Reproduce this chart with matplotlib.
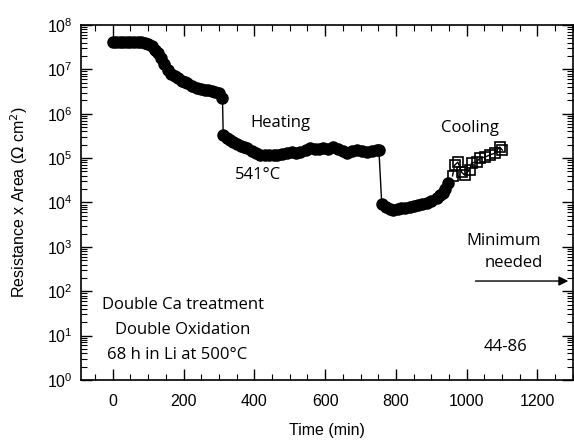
import matplotlib
matplotlib.use("Agg")
import matplotlib.pyplot as plt
from matplotlib.ticker import LogLocator, MultipleLocator, NullFormatter

plt.rcParams['font.family'] = ['Liberation Sans', 'DejaVu Sans']

# Heating run (filled circles): time (min), log10(R x A)
heat_t = [0, 10, 20, 30, 40, 50, 60, 70, 80, 90, 100, 110, 120, 127, 135, 145, 155,
          165, 175, 183, 195, 205, 211, 225, 239, 250, 260, 268, 280, 290, 300, 310,
          312, 322, 332, 341, 352, 362, 372, 380, 392, 405, 417, 430, 442, 455, 465,
          478, 493, 505, 518, 530, 545, 558, 570, 582, 594, 608, 623, 636, 650, 662,
          676, 690, 704, 718, 732, 746, 752,
          760, 772, 783, 792, 805, 815, 827, 839, 850, 862, 874, 887, 900, 915, 925,
          932, 940, 946]
heat_log = [7.61, 7.61, 7.61, 7.61, 7.61, 7.61, 7.61, 7.61, 7.61, 7.60, 7.58, 7.52, 7.44,
            7.36, 7.25, 7.12, 6.98, 6.90, 6.84, 6.80, 6.74, 6.71, 6.69, 6.63, 6.58, 6.55,
            6.54, 6.53, 6.51, 6.49, 6.47, 6.35,
            5.52, 5.46, 5.40, 5.36, 5.31, 5.27, 5.25, 5.23, 5.17, 5.12, 5.07, 5.08, 5.06,
            5.07, 5.07, 5.09, 5.11, 5.13, 5.12, 5.14, 5.18, 5.23, 5.20, 5.21, 5.23, 5.20,
            5.25, 5.21, 5.16, 5.11, 5.15, 5.18, 5.16, 5.14, 5.16, 5.18, 5.18,
            3.97, 3.90, 3.86, 3.83, 3.86, 3.88, 3.88, 3.90, 3.92, 3.94, 3.96, 3.99, 4.03,
            4.10, 4.16, 4.21, 4.30, 4.45]

# Cooling run (open squares)
cool_t = [960, 966, 975, 986, 994, 1008, 1014, 1028, 1037, 1051, 1065, 1079, 1093, 1101]
cool_log = [4.60, 4.84, 4.91, 4.68, 4.62, 4.73, 4.89, 4.91, 5.00, 5.02, 5.07, 5.11, 5.25, 5.18]

heat_r = [10 ** v for v in heat_log]
cool_r = [10 ** v for v in cool_log]

fig = plt.figure(figsize=(5.74, 4.46), dpi=100)
ax = fig.add_axes([0.141, 0.148, 0.857, 0.796])

ax.plot(heat_t, heat_r, color='black', lw=1.0, marker='o', ms=8,
        mfc='black', mec='black')
ax.plot(cool_t, cool_r, color='black', lw=1.0, marker='s', ms=6.5,
        mfc='none', mec='black', mew=1.2)

ax.set_yscale('log')
ax.set_xlim(-90, 1300)
ax.set_ylim(1, 1e8)

ax.xaxis.set_major_locator(MultipleLocator(200))
ax.xaxis.set_minor_locator(MultipleLocator(50))
ax.yaxis.set_major_locator(LogLocator(base=10, numticks=20))
ax.yaxis.set_minor_locator(LogLocator(base=10, subs=[2, 3, 4, 5, 6, 7, 8, 9], numticks=20))
ax.yaxis.set_minor_formatter(NullFormatter())

ax.tick_params(which='both', direction='in', top=True, right=True, labelsize=11.5)
ax.tick_params(axis='x', which='major', pad=10)
ax.tick_params(axis='y', which='major', pad=6)
ax.tick_params(which='major', length=8, width=1)
ax.tick_params(which='minor', length=4, width=0.8)
for s in ax.spines.values():
    s.set_linewidth(1.2)

ax.set_xlabel('Time (min)', fontsize=11.5, labelpad=10)
ax.set_ylabel('Resistance x Area ($\\Omega$ cm$^2$)', fontsize=11.5, labelpad=12)

af = dict(ha='center', va='center', fontsize=12, family=['Open Sans', 'DejaVu Sans'])
ax.text(473, 10 ** 5.79, 'Heating', **af)
ax.text(411, 10 ** 4.62, '541°C', **af)
ax.text(1008, 10 ** 5.68, 'Cooling', **af)
ax.text(1105, 10 ** 3.14, 'Minimum', **af)
ax.text(1133, 10 ** 2.63, 'needed', **af)
ax.text(1111, 10 ** 0.74, '44-86', **af)
ax.annotate('', xy=(1295, 10 ** 2.23), xytext=(1017, 10 ** 2.23),
            arrowprops=dict(arrowstyle='-|>', color='black', lw=1.0,
                            mutation_scale=14))

ax.text(197, 10 ** 1.69, 'Double Ca treatment', **af)
ax.text(197, 10 ** 1.13, 'Double Oxidation', **af)
ax.text(183, 10 ** 0.56, '68 h in Li at 500°C', **af)

fig.savefig('out.png', dpi=100)
